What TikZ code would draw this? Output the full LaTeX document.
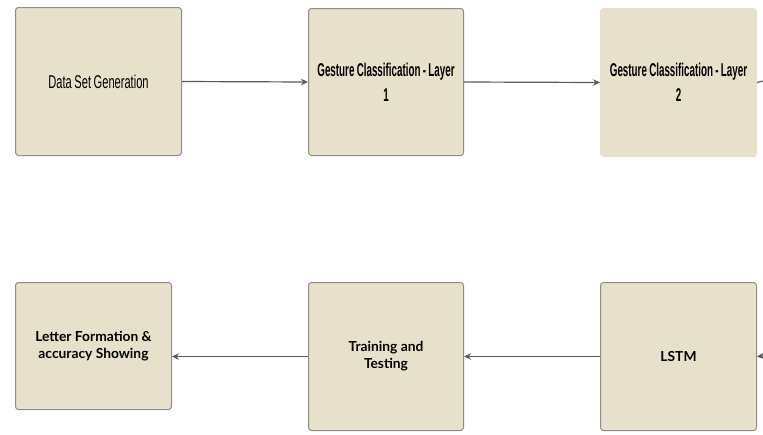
\documentclass[tikz,border=0pt]{standalone}
\usepackage{fontspec}
\setmainfont{Lato}
\newfontfamily\condfont[FakeStretch=0.53,WordSpace=0.85]{Liberation Sans}
\newfontfamily\condreg[FakeStretch=0.6,WordSpace=0.85]{Liberation Sans}
\usetikzlibrary{arrows.meta}
\definecolor{boxfill}{HTML}{E7E0CB}
\definecolor{boxline}{HTML}{8C8C88}
\definecolor{arrowc}{HTML}{5A5A5A}
\tikzset{
  box/.style={rectangle, rounded corners=3pt, fill=boxfill, draw=boxline, line width=1pt, anchor=north west, align=center, inner sep=2pt},
  topfont/.style={font=\condreg\fontsize{18.5}{25}\selectfont},
  topbold/.style={font=\condfont\bfseries\fontsize{18.5}{25}\selectfont},
  botfont/.style={font=\bfseries\fontsize{13.8}{17}\selectfont},
  flow/.style={draw=arrowc, line width=1.2pt, -{Stealth[length=7pt,width=6.5pt]}},
}
\begin{document}
\begin{tikzpicture}[x=1pt,y=-1pt]
\useasboundingbox (0,0) rectangle (763,434);
% top row
\node[box, topfont, minimum width=166pt, minimum height=148pt] (b1) at (15,7) {Data Set Generation};
\node[box, topbold, minimum width=155pt, minimum height=147pt] (b2) at (308,8) {Gesture Classification - Layer\\1};
\node[box, topbold, draw=boxfill, minimum width=156pt, minimum height=148pt] (b3) at (600,8) {Gesture Classification - Layer\\2};
% bottom row
\node[box, botfont, minimum width=156pt, minimum height=127pt] (b4) at (15,282) {Letter Formation \&\\accuracy Showing};
\node[box, botfont, minimum width=155pt, minimum height=148pt] (b5) at (308,282) {Training and\\Testing};
\node[box, botfont, minimum width=156pt, minimum height=148pt] (b6) at (600,282) {LSTM};
\coordinate (outR) at (763,81);
\coordinate (inR) at (763,356);
% connectors
\draw[flow] (b1.east) -- (b2.west);
\draw[flow] (b2.east) -- (b3.west);
\draw[draw=arrowc, line width=1.2pt] (b3.east) -- (outR);
\draw[flow] (inR) -- (b6.east);
\draw[flow] (b6.west) -- (b5.east);
\draw[flow] (b5.west) -- (b4.east |- b5.west);
\end{tikzpicture}
\end{document}
